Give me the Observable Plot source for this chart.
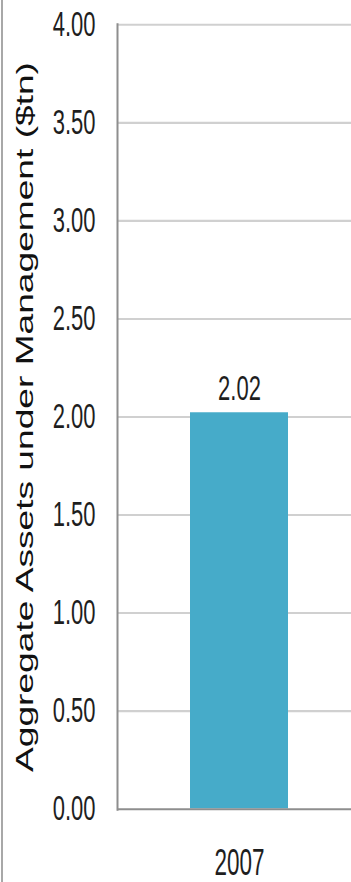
<!DOCTYPE html>
<html>
<head>
<meta charset="utf-8">
<script src="https://cdn.jsdelivr.net/npm/d3@7"></script>
<script src="https://cdn.jsdelivr.net/npm/@observablehq/plot@0.6"></script>
<style>
  html, body { margin: 0; padding: 0; background: #fff; }
  #wrap { position: relative; width: 351px; height: 882px; overflow: hidden; }
  #edge { position: absolute; left: 1px; top: 0; width: 2px; height: 882px; background: #a8a8a8; }
  #chart svg { display: block; }
</style>
</head>
<body>
<div id="wrap"><div id="edge"></div><div id="chart"></div></div>
<script>
// Aggregate assets under management, in trillions of dollars
const years = ["2007"];
const assets = [2.02];
const yTicks = [0.0, 0.5, 1.0, 1.5, 2.0, 2.5, 3.0, 3.5, 4.0];
const yTitle = "Aggregate Assets under Management ($tn)";

const rows = years.map((year, i) => ({year, value: assets[i]}));

// The chart is laid out at a compact height, then stretched vertically to fill the page
const W = 351, H = 551, OUT_H = 882;
const font = "'Liberation Sans', Arial, sans-serif";

const chart = Plot.plot({
  width: W,
  height: H,
  marginTop: 15,
  marginBottom: 46,
  marginLeft: 117,
  marginRight: 0,
  style: {fontFamily: font, fontSize: "22px", color: "#1e1e1e", background: "transparent"},
  x: {domain: years, range: [117, 362], padding: 0.4245, label: null},
  y: {domain: [0, 4], label: null},
  marks: [
    Plot.ruleY(yTicks.filter(d => d > 0), {stroke: "#d0d0d0", strokeWidth: 1.3}),
    Plot.barY(rows, {x: "year", y: "value", fill: "#46abc9"}),
    Plot.ruleY([0], {stroke: "#8e8e8e", strokeWidth: 1.3}),
    Plot.frame({anchor: "left", stroke: "#8e8e8e", strokeWidth: 2}),
    Plot.axisY({ticks: yTicks, tickSize: 0, tickPadding: 22, tickFormat: d3.format(".2f"), label: null, fontSize: 22}),
    Plot.axisX({tickSize: 0, tickPadding: 25, label: null, fontSize: 22.5}),
    Plot.text(rows, {x: "year", y: "value", text: d => d.value.toFixed(2), dy: -15, fontSize: 22, fill: "#1e1e1e"}),
    Plot.text([yTitle], {text: d => d, frameAnchor: "left", textAnchor: "middle", rotate: -90, dx: -92, fontSize: 23.2, fill: "#111"})
  ]
});

chart.setAttribute("height", OUT_H);
chart.setAttribute("preserveAspectRatio", "none");
chart.style.height = OUT_H + "px";
chart.style.width = W + "px";
chart.style.maxWidth = "none";
document.getElementById("chart").appendChild(chart);
</script>
</body>
</html>
